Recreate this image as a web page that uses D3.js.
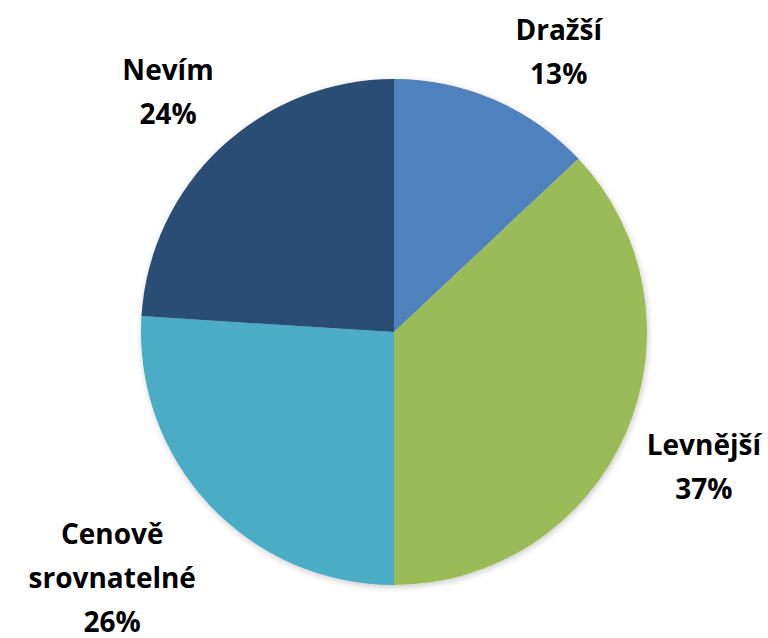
<!DOCTYPE html>
<html>
<head>
<meta charset="utf-8">
<script src="https://cdn.jsdelivr.net/npm/d3@7"></script>
<style>
  body { margin: 0; background: #fff; }
  text { font-family: "Open Sans", "Noto Sans", sans-serif; font-weight: bold; fill: #000; }
</style>
</head>
<body>
<div id="chart-area"></div>
<script>
// Chart data
const categories = ["Dražší", "Levnější", "Cenově srovnatelné", "Nevím"];
const shares = [13, 37, 26, 24];
const colors = ["#4F81BD", "#9BBB59", "#4BACC6", "#2C4D75"];
// label lines (category name split as in the picture)
const labelLines = [["Dražší"], ["Levnější"], ["Cenově", "srovnatelné"], ["Nevím"]];

function createPieChart() {
    const width = 768;
    const height = 638;
    const cx = 394, cy = 332, radius = 253;
    const gap = 16;          // space between pie edge and label box
    const topMargin = 10;    // keep labels inside the picture
    const bottomLimit = height + 2;
    const lineHeight = 44;

    const svg = d3.select("#chart-area")
        .append("svg")
        .attr("width", width)
        .attr("height", height);

    // soft shadow like the office chart
    const defs = svg.append("defs");
    const filter = defs.append("filter").attr("id", "shadow")
        .attr("x", "-10%").attr("y", "-10%").attr("width", "120%").attr("height", "120%");
    filter.append("feDropShadow")
        .attr("dx", 1).attr("dy", 2).attr("stdDeviation", 3)
        .attr("flood-color", "#000").attr("flood-opacity", 0.22);

    const data = categories.map((c, i) => ({ name: c, value: shares[i], color: colors[i], lines: labelLines[i] }));

    const pie = d3.pie().sort(null).value(d => d.value);
    const arc = d3.arc().innerRadius(0).outerRadius(radius);

    const g = svg.append("g")
        .attr("transform", `translate(${cx},${cy})`);

    g.append("g").attr("filter", "url(#shadow)")
        .selectAll("path")
        .data(pie(data))
        .enter()
        .append("path")
        .attr("d", arc)
        .attr("fill", d => d.data.color);

    // Labels "outside end": box pushed out along the slice direction until it clears the pie
    const labels = g.selectAll(".label")
        .data(pie(data))
        .enter()
        .append("text")
        .attr("class", "label")
        .attr("text-anchor", "middle")
        .style("font-size", "28px");

    labels.each(function(d) {
        const text = d3.select(this);
        const lines = d.data.lines.concat([d.data.value + "%"]);
        text.selectAll("tspan")
            .data(lines)
            .enter()
            .append("tspan")
            .attr("x", 0)
            .attr("y", (l, i) => i * lineHeight)
            .text(l => l);

        const bb = this.getBBox();
        const w = bb.width, h = bb.height;
        // offset from bbox centre to text origin
        const ox = -(bb.x + w / 2), oy = -(bb.y + h / 2);

        const mid = (d.startAngle + d.endAngle) / 2;
        const dx = Math.sin(mid), dy = -Math.cos(mid);
        const support = Math.abs(dx) * w / 2 + Math.abs(dy) * h / 2;
        const dist = radius + gap + support;
        let bx = dx * dist, by = dy * dist;

        // clamp to the picture, then slide sideways to clear the pie again
        const minY = -cy + topMargin + h / 2;
        const maxY = bottomLimit - cy - h / 2;
        if (by < minY || by > maxY) {
            by = Math.min(maxY, Math.max(minY, by));
            const nearY = Math.abs(by) - h / 2;
            const R = radius + gap;
            const need = Math.sqrt(Math.max(0, R * R - nearY * nearY));
            bx = Math.sign(dx) * (need + w / 2);
        }

        text.attr("transform", `translate(${bx + ox},${by + oy})`);
    });
}

createPieChart();
</script>
</body>
</html>
